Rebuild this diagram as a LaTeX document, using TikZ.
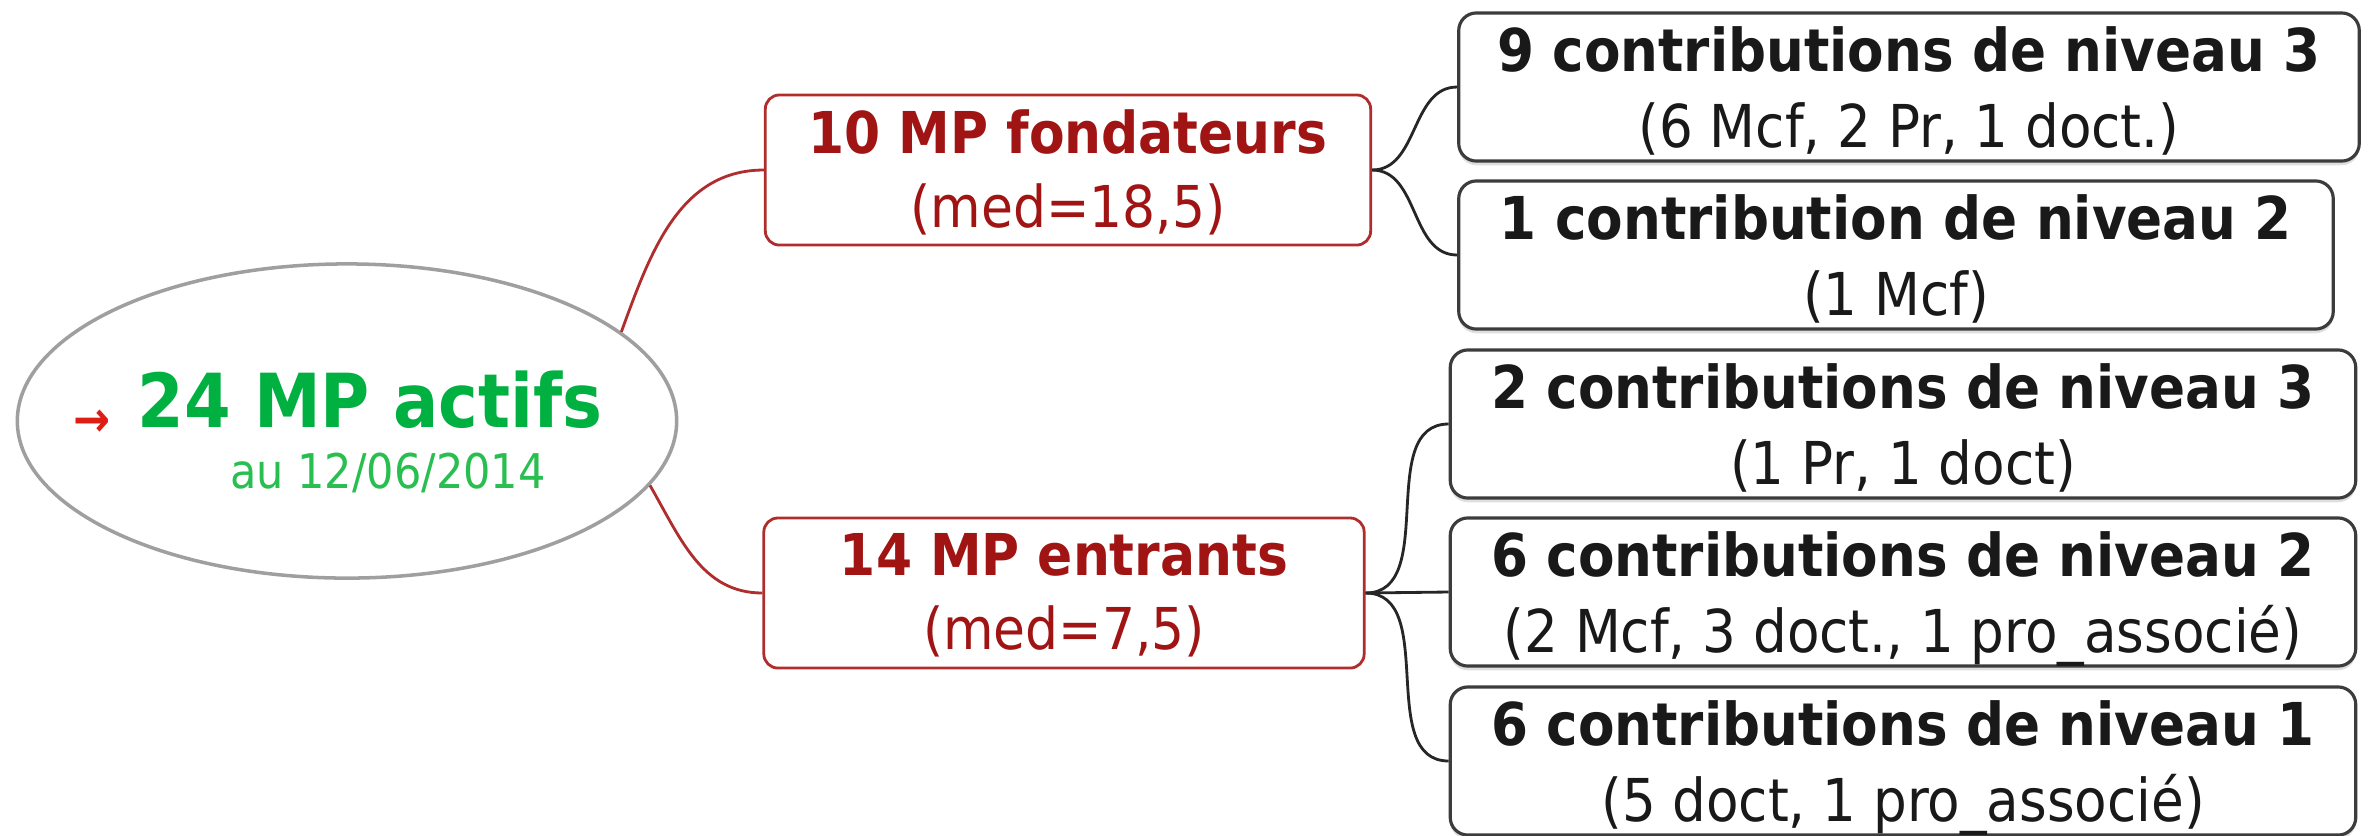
\documentclass[tikz,border=0pt]{standalone}
\usepackage{fontspec}
\setmainfont{DejaVu Sans Condensed}
\usetikzlibrary{shapes, shadows, positioning}
\definecolor{actifgreen}{RGB}{0, 176, 64}
\definecolor{dategreen}{RGB}{40, 190, 80}
\definecolor{groupred}{RGB}{160, 20, 20}
\definecolor{edgered}{RGB}{175, 45, 45}
\definecolor{arrowred}{RGB}{220, 30, 20}
\definecolor{boxgray}{RGB}{60, 60, 60}

\begin{document}
\begin{tikzpicture}[x=0.01cm, y=-0.01cm,
        root/.style={ellipse, draw=gray!75, line width=1pt, minimum width=6.59cm, minimum height=3.14cm},
        group/.style={rectangle, draw=edgered, line width=0.8pt, fill=white, rounded corners=4pt, minimum width=6.05cm, minimum height=1.5cm, inner ysep=1pt, text depth=1pt, align=center, text=groupred, font=\fontsize{16.4}{21}\selectfont},
        leaf/.style={rectangle, draw=boxgray, line width=0.9pt, fill=white, rounded corners=5pt, minimum width=9.05cm, minimum height=1.48cm, inner ysep=1pt, text depth=0pt, align=center, text=black!90, font=\fontsize{16.8}{21.5}\selectfont, drop shadow={shadow xshift=0pt, shadow yshift=-1.2pt, fill=gray!50}},
        redlink/.style={draw=edgered, line width=0.8pt},
        blacklink/.style={draw=black!85, line width=0.8pt}
    ]
    \useasboundingbox (0,0) rectangle (2368,835);

    \node[root] (root) at (347, 421) {};
    \node[text=arrowred, font=\bfseries\fontsize{14}{14}\selectfont] (mark) at (92, 423) {→};
    \node[text=actifgreen, font=\bfseries\fontsize{21.2}{21.2}\selectfont] (title) at (370, 400) {24 MP actifs};
    \node[text=dategreen, font=\fontsize{13.6}{13.6}\selectfont] (date) at (388, 473) {au 12/06/2014};

    \node[group] (fond) at (1068, 170) {\textbf{10 MP fondateurs}\\(med=18,5)};
    \node[group, minimum width=6cm] (ent) at (1064, 593) {\textbf{14 MP entrants}\\(med=7,5)};

    \node[leaf, minimum width=9cm] (fondthree) at (1909, 87) {\textbf{9 contributions de niveau 3}\\(6 Mcf, 2 Pr, 1 doct.)};
    \node[leaf, minimum width=8.74cm] (fondtwo) at (1896, 255) {\textbf{1 contribution de niveau 2}\\(1 Mcf)};
    \node[leaf] (entthree) at (1903, 424) {\textbf{2 contributions de niveau 3}\\(1 Pr, 1 doct)};
    \node[leaf] (enttwo) at (1903, 592) {\textbf{6 contributions de niveau 2}\\(2 Mcf, 3 doct., 1 pro\_associé)};
    \node[leaf] (entone) at (1903, 761) {\textbf{6 contributions de niveau 1}\\(5 doct, 1 pro\_associé)};

    % links from the root
    \draw[redlink] (root.18) to[out=70, in=180] (fond.west);
    \draw[redlink] (root.-12) to[out=-60, in=180] (ent.west);

    % links to the contributions
    \draw[blacklink] (fond.east) to[out=0, in=180] (fondthree.west);
    \draw[blacklink] (fond.east) to[out=0, in=180] (fondtwo.west);
    \draw[blacklink] (ent.east) to[out=0, in=180] (entthree.west);
    \draw[blacklink] (ent.east) -- (enttwo.west);
    \draw[blacklink] (ent.east) to[out=0, in=180] (entone.west);
\end{tikzpicture}
\end{document}
